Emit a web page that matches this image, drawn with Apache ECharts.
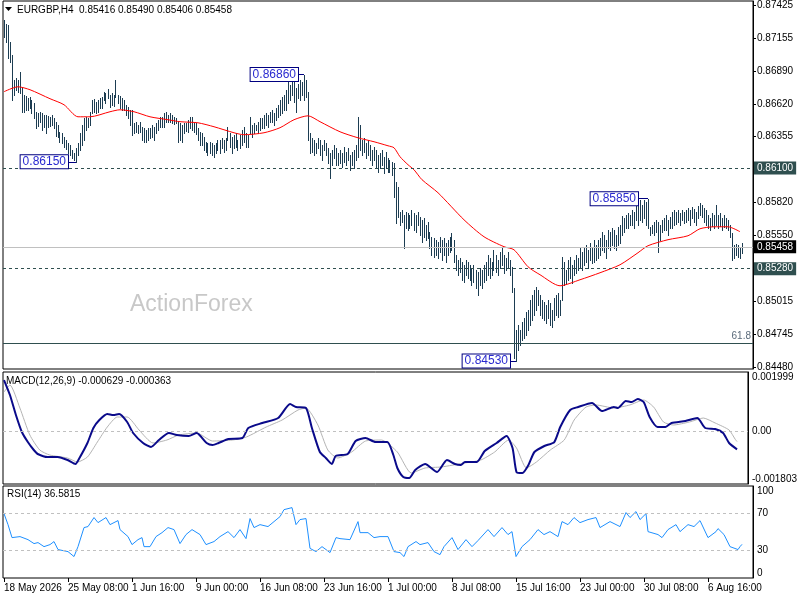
<!DOCTYPE html>
<html>
<head>
<meta charset="utf-8">
<script src="https://cdn.jsdelivr.net/npm/echarts@6.0.0/dist/echarts.min.js"></script>
<style>
html,body{margin:0;padding:0;background:#fff;}
#chart{width:800px;height:600px;}
</style>
</head>
<body>
<div id="chart"></div>
<script>
// ---- price bars (H4) ----
const highs = [
0.87305,0.87273,0.87265,0.87126,0.87021,0.86817,0.86834,0.86817,0.86882,0.86752,
0.86695,0.86687,0.86671,0.86679,0.86655,0.86630,0.86557,0.86549,0.86557,0.86549,
0.86532,0.86532,0.86524,0.86516,0.86532,0.86508,0.86476,0.86451,0.86394,0.86386,
0.86353,0.86329,0.86305,0.86288,0.86248,0.86223,0.86264,0.86305,0.86386,0.86451,
0.86508,0.86516,0.86508,0.86557,0.86655,0.86663,0.86638,0.86655,0.86671,0.86679,
0.86720,0.86711,0.86744,0.86695,0.86711,0.86695,0.86817,0.86695,0.86687,0.86671,
0.86655,0.86614,0.86598,0.86573,0.86573,0.86467,0.86476,0.86451,0.86476,0.86435,
0.86427,0.86410,0.86427,0.86427,0.86451,0.86435,0.86467,0.86492,0.86516,0.86516,
0.86549,0.86557,0.86532,0.86549,0.86532,0.86516,0.86508,0.86476,0.86467,0.86451,
0.86467,0.86467,0.86492,0.86516,0.86516,0.86467,0.86467,0.86427,0.86394,0.86386,
0.86353,0.86313,0.86305,0.86313,0.86305,0.86288,0.86305,0.86329,0.86329,0.86345,
0.86329,0.86345,0.86435,0.86386,0.86353,0.86370,0.86386,0.86329,0.86370,0.86410,
0.86435,0.86386,0.86370,0.86516,0.86451,0.86467,0.86451,0.86476,0.86508,0.86508,
0.86532,0.86549,0.86532,0.86557,0.86573,0.86549,0.86589,0.86614,0.86655,0.86679,
0.86695,0.86736,0.86801,0.86777,0.86817,0.86834,0.86752,0.86785,0.86817,0.86801,
0.86860,0.86817,0.86720,0.86386,0.86345,0.86329,0.86305,0.86345,0.86329,0.86288,
0.86329,0.86305,0.86264,0.86223,0.86248,0.86288,0.86264,0.86223,0.86248,0.86223,
0.86272,0.86231,0.86264,0.86207,0.86231,0.86248,0.86288,0.86516,0.86451,0.86329,
0.86345,0.86305,0.86329,0.86288,0.86248,0.86272,0.86248,0.86207,0.86223,0.86248,
0.86191,0.86231,0.86183,0.86166,0.86150,0.86142,0.85987,0.85947,0.85743,0.85760,
0.85719,0.85743,0.85735,0.85719,0.85760,0.85735,0.85719,0.85743,0.85703,0.85678,
0.85695,0.85638,0.85662,0.85581,0.85540,0.85532,0.85516,0.85499,0.85540,0.85516,
0.85532,0.85491,0.85516,0.85540,0.85573,0.85516,0.85394,0.85353,0.85369,0.85337,
0.85312,0.85353,0.85337,0.85312,0.85288,0.85312,0.85272,0.85255,0.85288,0.85272,
0.85312,0.85337,0.85394,0.85369,0.85337,0.85434,0.85394,0.85353,0.85418,0.85450,
0.85394,0.85369,0.85418,0.85353,0.85296,0.85125,0.84783,0.84824,0.84783,0.84849,
0.84881,0.84930,0.84946,0.85028,0.85068,0.85109,0.85133,0.85109,0.85068,0.85028,
0.85011,0.84987,0.85028,0.85003,0.84946,0.85044,0.85068,0.85084,0.85028,0.85377,
0.85337,0.85272,0.85353,0.85377,0.85312,0.85353,0.85394,0.85369,0.85450,0.85418,
0.85450,0.85475,0.85434,0.85491,0.85450,0.85516,0.85475,0.85516,0.85532,0.85581,
0.85556,0.85516,0.85597,0.85581,0.85613,0.85597,0.85556,0.85621,0.85638,0.85711,
0.85695,0.85719,0.85735,0.85719,0.85760,0.85743,0.85800,0.85817,0.85841,0.85800,
0.85841,0.85825,0.85850,0.85621,0.85638,0.85662,0.85678,0.85662,0.85638,0.85678,
0.85695,0.85719,0.85678,0.85703,0.85743,0.85760,0.85743,0.85760,0.85735,0.85760,
0.85743,0.85760,0.85776,0.85760,0.85784,0.85768,0.85743,0.85792,0.85817,0.85800,
0.85776,0.85760,0.85719,0.85695,0.85735,0.85719,0.85800,0.85719,0.85735,0.85695,
0.85719,0.85695,0.85678,0.85638,0.85573,0.85475,0.85483,0.85475,0.85450,0.85490
];
const lows = [
0.87167,0.87126,0.86996,0.86964,0.86655,0.86695,0.86736,0.86720,0.86711,0.86557,
0.86557,0.86573,0.86573,0.86589,0.86549,0.86508,0.86427,0.86443,0.86476,0.86410,
0.86435,0.86386,0.86435,0.86443,0.86451,0.86427,0.86362,0.86353,0.86313,0.86305,
0.86272,0.86256,0.86223,0.86207,0.86183,0.86166,0.86150,0.86207,0.86248,0.86288,
0.86329,0.86410,0.86435,0.86451,0.86549,0.86557,0.86549,0.86557,0.86589,0.86589,
0.86655,0.86630,0.86671,0.86598,0.86614,0.86606,0.86679,0.86630,0.86589,0.86573,
0.86573,0.86532,0.86508,0.86451,0.86370,0.86386,0.86394,0.86386,0.86394,0.86329,
0.86313,0.86313,0.86329,0.86345,0.86353,0.86329,0.86386,0.86410,0.86435,0.86435,
0.86435,0.86476,0.86476,0.86476,0.86467,0.86459,0.86467,0.86313,0.86329,0.86313,
0.86386,0.86402,0.86394,0.86427,0.86410,0.86394,0.86378,0.86329,0.86288,0.86288,
0.86248,0.86231,0.86207,0.86223,0.86207,0.86191,0.86223,0.86248,0.86223,0.86264,
0.86231,0.86248,0.86329,0.86272,0.86223,0.86264,0.86272,0.86248,0.86264,0.86288,
0.86313,0.86272,0.86272,0.86386,0.86353,0.86386,0.86410,0.86386,0.86410,0.86427,
0.86427,0.86451,0.86435,0.86476,0.86476,0.86451,0.86492,0.86516,0.86532,0.86549,
0.86573,0.86573,0.86630,0.86655,0.86695,0.86638,0.86557,0.86671,0.86655,0.86695,
0.86655,0.86679,0.86329,0.86223,0.86231,0.86207,0.86223,0.86264,0.86207,0.86166,
0.86248,0.86207,0.86142,0.86020,0.86126,0.86183,0.86126,0.86126,0.86142,0.86109,
0.86150,0.86126,0.86166,0.86085,0.86126,0.86101,0.86166,0.86191,0.86248,0.86207,
0.86231,0.86183,0.86207,0.86166,0.86126,0.86166,0.86109,0.86069,0.86101,0.86126,
0.86061,0.86101,0.86069,0.86069,0.86044,0.85865,0.85654,0.85703,0.85638,0.85662,
0.85450,0.85613,0.85597,0.85613,0.85638,0.85597,0.85581,0.85638,0.85556,0.85499,
0.85540,0.85516,0.85532,0.85450,0.85394,0.85377,0.85394,0.85369,0.85418,0.85353,
0.85394,0.85337,0.85394,0.85418,0.85434,0.85337,0.85272,0.85231,0.85255,0.85190,
0.85174,0.85231,0.85206,0.85190,0.85150,0.85174,0.85125,0.85068,0.85150,0.85125,
0.85174,0.85190,0.85231,0.85206,0.85231,0.85272,0.85255,0.85231,0.85288,0.85312,
0.85247,0.85272,0.85288,0.85231,0.85093,0.84556,0.84530,0.84621,0.84661,0.84702,
0.84718,0.84743,0.84783,0.84824,0.84865,0.84906,0.84946,0.84987,0.84906,0.84881,
0.84865,0.84840,0.84881,0.84824,0.84808,0.84865,0.84906,0.84889,0.84906,0.85028,
0.85150,0.85166,0.85190,0.85206,0.85166,0.85231,0.85247,0.85272,0.85288,0.85272,
0.85312,0.85337,0.85288,0.85353,0.85329,0.85337,0.85353,0.85369,0.85394,0.85434,
0.85418,0.85369,0.85450,0.85434,0.85475,0.85450,0.85434,0.85475,0.85491,0.85556,
0.85581,0.85613,0.85613,0.85638,0.85638,0.85613,0.85678,0.85638,0.85678,0.85662,
0.85695,0.85638,0.85613,0.85556,0.85573,0.85556,0.85581,0.85418,0.85516,0.85581,
0.85597,0.85597,0.85556,0.85613,0.85613,0.85638,0.85646,0.85662,0.85638,0.85678,
0.85654,0.85662,0.85678,0.85638,0.85695,0.85662,0.85638,0.85695,0.85719,0.85703,
0.85662,0.85638,0.85613,0.85597,0.85630,0.85613,0.85638,0.85613,0.85630,0.85597,
0.85621,0.85613,0.85597,0.85540,0.85353,0.85369,0.85394,0.85377,0.85369,0.85406
];
// moving average [barIndex, value]
const maPoints = [[0,0.86720],[7,0.86760],[13,0.86736],[23,0.86663],[30,0.86614],[37,0.86516],[43,0.86516],[53,0.86557],[58,0.86573],[65,0.86557],[73,0.86516],[82,0.86492],[88,0.86476],[97,0.86467],[105,0.86435],[115,0.86386],[120,0.86370],[130,0.86386],[138,0.86427],[145,0.86492],[152,0.86524],[158,0.86476],[168,0.86394],[177,0.86345],[185,0.86313],[192,0.86280],[195,0.86264],[198,0.86191],[202,0.86126],[205,0.86085],[209,0.86004],[217,0.85898],[230,0.85678],[240,0.85540],[250,0.85459],[255,0.85434],[262,0.85296],[268,0.85231],[278,0.85141],[288,0.85190],[298,0.85247],[308,0.85312],[317,0.85410],[322,0.85467],[332,0.85516],[342,0.85548],[348,0.85605],[355,0.85621],[362,0.85621],[368,0.85581]];
// MACD(12,26,9)
const macdPoints = [[0,0.001727],[3,0.001218],[6,0.000539],[9,-0.000038],[12,-0.000378],[15,-0.000649],[17,-0.000785],[22,-0.000887],[27,-0.000887],[32,-0.000989],[36,-0.001124],[38,-0.000921],[42,-0.000411],[45,0.000098],[48,0.000369],[52,0.000573],[55,0.000539],[58,0.000573],[62,0.000301],[65,-0.000072],[70,-0.000411],[74,-0.000547],[78,-0.00031],[83,-0.000072],[87,-0.00014],[93,-0.000174],[97,-0.000072],[102,-0.000411],[105,-0.000479],[108,-0.000411],[113,-0.000276],[120,-0.000242],[123,0.000098],[130,0.000268],[138,0.000437],[144,0.000913],[147,0.000811],[152,0.000777],[155,0.000098],[159,-0.000717],[162,-0.000921],[165,-0.001124],[167,-0.000853],[173,-0.000785],[177,-0.000344],[182,-0.000242],[187,-0.000378],[193,-0.000378],[196,-0.000819],[198,-0.00126],[201,-0.001566],[204,-0.0016],[207,-0.001328],[212,-0.001124],[218,-0.001396],[223,-0.000989],[227,-0.001124],[230,-0.001158],[232,-0.001057],[238,-0.001057],[242,-0.000683],[248,-0.000411],[253,-0.000174],[256,-0.000581],[258,-0.001396],[261,-0.00143],[264,-0.001158],[267,-0.000717],[272,-0.000513],[277,-0.000378],[280,0.000132],[285,0.000709],[289,0.000811],[296,0.000947],[301,0.000675],[307,0.000811],[309,0.000777],[313,0.001014],[316,0.00098],[319,0.001082],[322,0.00098],[325,0.000471],[329,0.000132],[333,0.000132],[336,0.000268],[343,0.000335],[349,0.000437],[353,0.000098],[358,0.000064],[362,-0.000072],[365,-0.000411],[369,-0.000629]];
const signalPoints = [[0,0.00132],[3,0.001558],[8,0.000777],[13,-0.00014],[18,-0.000649],[23,-0.000819],[32,-0.000921],[37,-0.001057],[42,-0.000887],[47,-0.000378],[52,0.000132],[57,0.000471],[62,0.000471],[68,0.00003],[75,-0.000411],[82,-0.00031],[88,-0.00014],[97,-0.000072],[105,-0.000344],[115,-0.00031],[122,-0.000208],[132,0.000132],[140,0.000369],[148,0.000709],[152,0.000777],[158,0.0002],[163,-0.000649],[168,-0.000921],[175,-0.000717],[182,-0.000344],[190,-0.00031],[198,-0.000717],[205,-0.00143],[212,-0.00126],[220,-0.001226],[232,-0.00109],[240,-0.000989],[247,-0.000717],[254,-0.00031],[258,-0.000581],[263,-0.00126],[268,-0.001057],[275,-0.000649],[282,-0.00031],[287,0.000369],[293,0.000811],[298,0.000879],[307,0.000777],[315,0.000879],[322,0.001048],[327,0.000811],[332,0.000301],[337,0.0002],[345,0.000301],[352,0.000437],[358,0.000268],[365,0.00003],[368,-0.000276],[369,-0.000363]];
// RSI(14)
const rsiPoints = [[0,70],[2,58],[4,43.9],[8,45],[12,41.7],[15,37.4],[17,38.5],[20,34.1],[23,36.3],[25,39.6],[27,30.9],[32,28.7],[35,23.3],[37,34.1],[40,54.8],[42,55.9],[45,65.7],[47,60.2],[51,65.7],[53,58],[57,62.4],[58,52.6],[62,45],[64,36.3],[67,41.7],[69,43.9],[70,34.1],[73,34.1],[76,45],[79,49.3],[82,54.8],[85,52.6],[88,37.4],[91,47.2],[94,52.6],[98,47.2],[101,36.3],[105,39.6],[108,45],[112,50.4],[115,43.9],[118,52.6],[121,42.8],[123,64.6],[125,54.8],[128,58],[132,55.9],[135,61.3],[138,66.7],[140,74.3],[144,76.5],[146,58],[148,63.5],[151,64.6],[153,32.2],[156,28.7],[159,34.1],[161,30.9],[163,27.6],[166,43.9],[168,42.8],[173,41.7],[177,61.3],[178,49.3],[182,49.3],[185,43.9],[188,45],[192,45],[195,28.7],[198,27.6],[200,23.3],[202,34.1],[206,39.6],[208,36.3],[212,38.5],[215,28.7],[218,25.4],[220,34.1],[224,43.9],[227,30.9],[231,41.7],[234,34.1],[237,40.7],[242,52.6],[245,45],[249,54.8],[252,47.2],[254,50.4],[256,23.3],[259,34.1],[263,41.7],[267,52.6],[270,47.2],[273,50.4],[277,45],[279,61.3],[282,58],[285,65.7],[288,60.2],[292,63.5],[296,65.7],[298,54.8],[303,61.3],[308,55.9],[311,71.1],[313,65.7],[316,72.2],[318,63.5],[321,70],[322,50.4],[327,47.2],[329,43.9],[332,52.6],[336,58],[338,50.4],[342,58],[345,55.9],[348,62.4],[352,43.9],[356,50.4],[357,53.7],[360,47.2],[363,34.1],[367,30.9],[368,34.1],[369,36.58]];
// axis tick labels
const priceTicks = [0.87425,0.87155,0.86890,0.86620,0.86355,0.85820,0.85550,0.85015,0.84745,0.84480];
const macdTicks = [-0.001803, 0, 0.001999];
const rsiTicks = [0, 30, 70, 100];
const timeLabels = ['18 May 2026','25 May 08:00','1 Jun 16:00','9 Jun 00:00','16 Jun 08:00','23 Jun 16:00','1 Jul 00:00','8 Jul 08:00','15 Jul 16:00','23 Jul 00:00','30 Jul 08:00','6 Aug 16:00'];
const labelStep = 32;
const slotCount = 375;
// levels and annotations
const dashedLevels = [0.86100, 0.85280];
const currentPrice = 0.85458;
const fibLevel = 0.84670;
const annotations = [
  {text:'0.86860', price:0.86860, bar:150, box:147},
  {text:'0.86150', price:0.86150, bar:36, box:32},
  {text:'0.85850', price:0.85850, bar:322, box:317},
  {text:'0.84530', price:0.84530, bar:256, box:253}
];
const headerText = 'EURGBP,H4  0.85416 0.85490 0.85406 0.85458';
const macdText = 'MACD(12,26,9) -0.000629 -0.000363';
const rsiText = 'RSI(14) 36.5815';

const FONT = 'Liberation Sans';
const BAR_COLOR = '#1d3d52';

// H4 time slots (weekdays only) for the category axis
const cats = [];
(function(){
  let t = Date.UTC(2026, 4, 18, 0, 0);
  while (cats.length < slotCount) {
    const d = new Date(t);
    const wd = d.getUTCDay();
    if (wd !== 0 && wd !== 6) cats.push(d.toISOString().slice(0,16).replace('T',' '));
    t += 4 * 3600 * 1000;
  }
})();

const barData = highs.map((h, i) => [i, h, lows[i]]);

function renderBar(params, api) {
  const i = api.value(0);
  const pH = api.coord([i, api.value(1)]);
  const pL = api.coord([i, api.value(2)]);
  const x = Math.floor(pH[0]) + 0.5;
  return {
    type: 'line',
    shape: {x1: x, y1: Math.round(pH[1]), x2: x, y2: Math.round(pL[1]) + 1},
    style: {stroke: BAR_COLOR, lineWidth: 1}
  };
}

const showTick = (idx) => idx % labelStep === 0 && idx / labelStep < timeLabels.length;

const gridBase = {left: 3, width: 750, show: true, borderColor: '#000', borderWidth: 1, backgroundColor: 'transparent'};

function xAx(g) {
  const bottom = g === 2;
  return {
    type: 'category', gridIndex: g, data: cats, boundaryGap: true,
    axisLine: {show: false}, splitLine: {show: false},
    axisTick: bottom ? {show: true, interval: showTick, alignWithLabel: true, length: 4, lineStyle: {color: '#000'}} : {show: false},
    axisLabel: bottom ? {
      show: true, interval: showTick, align: 'left', margin: 5, color: '#000',
      fontSize: 10, fontFamily: FONT, hideOverlap: false,
      formatter: (v, idx) => timeLabels[Math.round(idx / labelStep)] || ''
    } : {show: false}
  };
}

const dashedLine = {color: '#2f4f4f', type: [3, 3], width: 1};
const levelLabel = (txt, bg) => ({show: true, position: 'end', distance: 1, formatter: txt, backgroundColor: bg, color: '#fff', padding: [2, 3, 1, 3], fontSize: 10, fontFamily: FONT});

const markLineData = [];
dashedLevels.forEach(v => markLineData.push({yAxis: v, lineStyle: dashedLine, label: levelLabel(v.toFixed(5), '#2f4f4f')}));
markLineData.push({yAxis: currentPrice, lineStyle: {color: '#c0c0c0', type: 'solid', width: 1}, label: levelLabel(currentPrice.toFixed(5), '#000')});
markLineData.push({yAxis: fibLevel, lineStyle: {color: '#2f4f4f', type: 'solid', width: 1}, label: {show: true, position: 'insideEndTop', distance: 2, formatter: '61.8', color: '#5b6b7b', fontSize: 10, fontFamily: FONT, padding: 0}});
annotations.forEach(a => markLineData.push([
  {coord: [a.box, a.price], lineStyle: {color: '#000080', type: 'solid', width: 1}, label: {show: false}},
  {coord: [a.bar, a.price]}
]));

const option = {
  animation: false,
  backgroundColor: '#fff',
  grid: [
    Object.assign({top: 1, height: 368}, gridBase),
    Object.assign({top: 372, height: 112}, gridBase),
    Object.assign({top: 486, height: 92}, gridBase)
  ],
  xAxis: [xAx(0), xAx(1), xAx(2)],
  yAxis: [
    {
      type: 'value', gridIndex: 0, position: 'right', min: 0.84464, max: 0.87458, scale: true,
      axisLine: {show: true, lineStyle: {color: '#000'}},
      axisTick: {show: true, customValues: priceTicks, length: 3, lineStyle: {color: '#000'}},
      axisLabel: {customValues: priceTicks, formatter: v => v.toFixed(5), margin: 4, color: '#000', fontSize: 10, fontFamily: FONT},
      splitLine: {show: false}
    },
    {
      type: 'value', gridIndex: 1, position: 'right', min: -0.001803, max: 0.001999,
      axisLine: {show: true, lineStyle: {color: '#000'}},
      axisTick: {show: false},
      axisLabel: {customValues: macdTicks, formatter: v => v === 0 ? '0.00' : v.toFixed(6), margin: 4, color: '#000', fontSize: 10, fontFamily: FONT,
        showMinLabel: true, showMaxLabel: true, verticalAlignMinLabel: 'bottom', verticalAlignMaxLabel: 'top'},
      splitLine: {show: false}
    },
    {
      type: 'value', gridIndex: 2, position: 'right', min: 0, max: 100,
      axisLine: {show: true, lineStyle: {color: '#000'}},
      axisTick: {show: false},
      axisLabel: {customValues: rsiTicks, margin: 4, color: '#000', fontSize: 10, fontFamily: FONT,
        showMinLabel: true, showMaxLabel: true, verticalAlignMinLabel: 'bottom', verticalAlignMaxLabel: 'top'},
      splitLine: {show: false}
    }
  ],
  series: [
    {
      type: 'custom', name: 'EURGBP', xAxisIndex: 0, yAxisIndex: 0,
      data: barData, encode: {x: 0, y: [1, 2]}, renderItem: renderBar, silent: true, z: 3
    },
    {
      type: 'line', name: 'MA', xAxisIndex: 0, yAxisIndex: 0, data: maPoints,
      showSymbol: false, smooth: 0.25, lineStyle: {color: '#ff0000', width: 1}, silent: true, z: 4,
      markLine: {silent: true, precision: 5, symbol: ['none', 'none'], animation: false, data: markLineData},
      markPoint: {
        silent: true, symbol: 'circle', symbolSize: 0, animation: false,
        label: {show: true, position: 'left', distance: 0, formatter: '{b}', color: '#2a2ad0', backgroundColor: '#fff',
          borderColor: '#000080', borderWidth: 1, padding: [1, 2, 0, 2], fontSize: 12, fontFamily: FONT},
        data: annotations.map(a => ({name: a.text, coord: [a.box, a.price]}))
      }
    },
    {
      type: 'line', name: 'MACD', xAxisIndex: 1, yAxisIndex: 1, data: macdPoints,
      showSymbol: false, smooth: 0.2, lineStyle: {color: '#0a0a8a', width: 2}, silent: true, z: 4,
      markLine: {silent: true, precision: 6, symbol: ['none', 'none'], label: {show: false},
        data: [{yAxis: 0, lineStyle: {color: '#c0c0c0', type: [3, 3], width: 1}}]}
    },
    {
      type: 'line', name: 'Signal', xAxisIndex: 1, yAxisIndex: 1, data: signalPoints,
      showSymbol: false, smooth: 0.2, lineStyle: {color: '#b4b4b4', width: 1}, silent: true, z: 3
    },
    {
      type: 'line', name: 'RSI', xAxisIndex: 2, yAxisIndex: 2, data: rsiPoints,
      showSymbol: false, lineStyle: {color: '#1e90ff', width: 1}, silent: true, z: 4,
      markLine: {silent: true, symbol: ['none', 'none'], label: {show: false},
        data: [{yAxis: 70, lineStyle: {color: '#c0c0c0', type: [3, 3], width: 1}}, {yAxis: 30, lineStyle: {color: '#c0c0c0', type: [3, 3], width: 1}}]}
    }
  ],
  graphic: [
    {type: 'polygon', shape: {points: [[5, 7], [12, 7], [8.5, 11]]}, style: {fill: '#000'}, silent: true},
    {type: 'text', x: 17, y: 10, style: {text: headerText, fill: '#000', fontSize: 10, fontFamily: FONT, verticalAlign: 'middle'}, silent: true},
    {type: 'text', x: 130, y: 305, style: {text: 'ActionForex', fill: '#c8c8c8', fontSize: 23, fontFamily: FONT, verticalAlign: 'middle'}, silent: true, z: 0},
    {type: 'text', x: 6, y: 381, style: {text: macdText, fill: '#000', fontSize: 10, fontFamily: FONT, verticalAlign: 'middle'}, silent: true},
    {type: 'text', x: 7, y: 494, style: {text: rsiText, fill: '#000', fontSize: 10, fontFamily: FONT, verticalAlign: 'middle'}, silent: true}
  ]
};

const chart = echarts.init(document.getElementById('chart'), null, {renderer: 'canvas'});
chart.setOption(option);
</script>
</body>
</html>
